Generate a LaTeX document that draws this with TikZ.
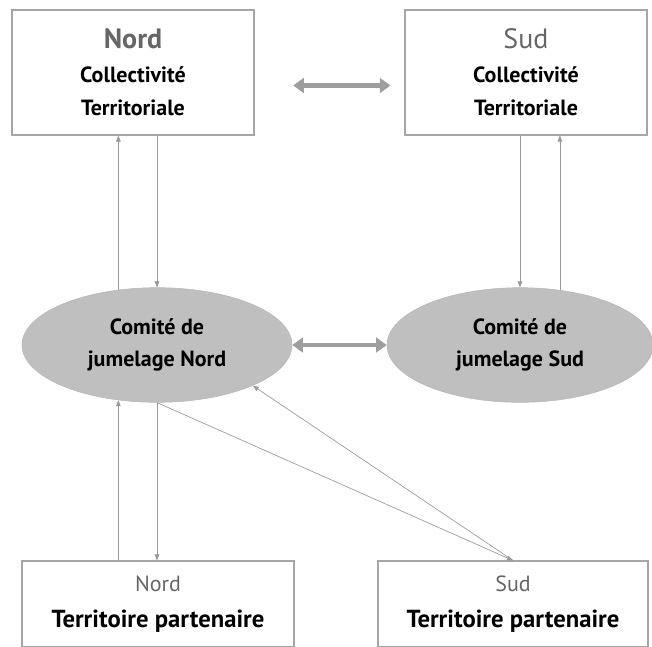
\documentclass[tikz,border=0pt]{standalone}
\usepackage{fontspec}
\setmainfont{PT Sans}
\usepackage{tikz}
\tikzset{
every picture/.style={x=0.75pt,y=-0.75pt}
}
\usetikzlibrary{shapes.geometric,arrows.meta}
\tikzset{
  ctbox/.style={draw=black!35, line width=0.8pt, minimum width=181.5pt,
    minimum height=93.75pt, align=center, inner sep=0pt,
    font=\bfseries\fontsize{16.5}{25}\selectfont},
  tpbox/.style={draw=black!35, line width=0.8pt, minimum width=204pt,
    minimum height=64.5pt, align=center, inner sep=0pt,
    font=\bfseries\fontsize{18.5}{27}\selectfont},
  comite/.style={ellipse, draw=black!28, fill=black!25, minimum width=202.5pt,
    minimum height=86pt, align=center, inner sep=0pt,
    font=\bfseries\fontsize{16.5}{24}\selectfont},
  fleche/.style={draw=black!40, line width=0.5pt, -{Triangle[length=4.5pt,width=3.5pt]}},
  lien/.style={draw=black!38, line width=3.5pt,
    {Triangle[length=8pt,width=11pt]}-{Triangle[length=8pt,width=11pt]}}
}

\begin{document}
\begin{tikzpicture}
      \useasboundingbox (0,0) rectangle (652,646);
      \node[ctbox] (nordct) at (133,72.5)
        {{\fontsize{21}{25}\selectfont\color{black!60}Nord}\\Collectivité\\Territoriale};
      \node[ctbox] (sudct) at (526,72.5)
        {{\fontsize{21}{25}\selectfont\mdseries\color{black!60}Sud}\\Collectivité\\Territoriale};
      \node[comite] (nordcj) at (157,345) {Comité de\\jumelage Nord};
      \node[comite, minimum width=199.5pt] (sudcj) at (520,345) {Comité de\\jumelage Sud};
      \node[tpbox] (nordtp) at (158,604)
        {{\mdseries\fontsize{16.5}{27}\selectfont\color{black!60}Nord}\\Territoire partenaire};
      \node[tpbox, minimum width=202.5pt] (sudtp) at (513,604)
        {{\mdseries\fontsize{16.5}{27}\selectfont\color{black!60}Sud}\\Territoire partenaire};
      \draw[lien, shorten <=29pt, shorten >=10.5pt]
        ([yshift=-9.75pt]nordct.east) -- ([yshift=-9.75pt]sudct.west);
      \draw[lien] (nordcj) -- (sudcj);
      \foreach \cote/\ang in {nord/125, sud/54} {
        \draw[fleche] (\cote cj.\ang) -- (\cote cj.\ang |- \cote ct.south);
        \draw[fleche] (\cote cj.north |- \cote ct.south) -- (\cote cj.north);
      }
      \draw[fleche] (nordtp.north -| nordcj.235) -- (nordcj.235);
      \draw[fleche] (nordcj.south) -- (nordcj.south |- nordtp.north);
      \draw[fleche] (nordcj.south) -- (sudtp.north);
      \draw[fleche] (sudtp.north) -- (nordcj.337);
    \end{tikzpicture}
\end{document}
